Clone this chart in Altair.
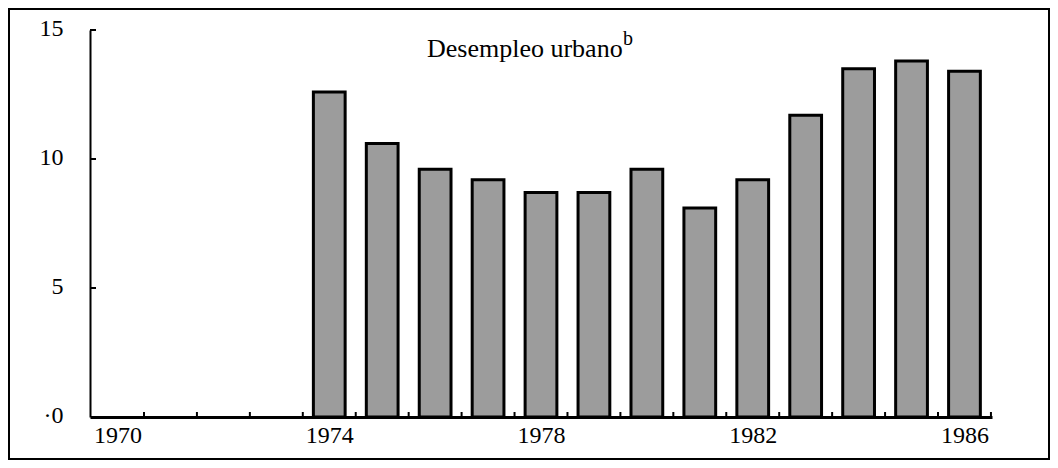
import altair as alt
import pandas as pd

years = [1974, 1975, 1976, 1977, 1978, 1979, 1980, 1981, 1982, 1983, 1984, 1985, 1986]
desempleo = [12.6, 10.6, 9.6, 9.2, 8.7, 8.7, 9.6, 8.1, 9.2, 11.7, 13.5, 13.8, 13.4]
x_labels = [1970, 1974, 1978, 1982, 1986]
y_labels = [0, 5, 10, 15]
x_ticks = [1970, 1971, 1972, 1973, 1974, 1975, 1976, 1977, 1978, 1979,
           1980, 1981, 1982, 1983, 1984, 1985, 1986]
y_ticks = [5, 10, 15]
title_main = "Desempleo urbano"
title_sup = "b"

W, H = 902, 387
PAD = {"left": 82, "top": 22, "right": 58, "bottom": 43}
FONT = "Liberation Serif"

bars_df = pd.DataFrame({"year": years, "value": desempleo})
xt_df = pd.DataFrame({"t": x_ticks})
yt_df = pd.DataFrame({"v": y_ticks})

xscale = alt.Scale(domain=[1969.48, 1986.52], nice=False, zero=False)
yscale = alt.Scale(domain=[0, 15], nice=False)

xaxis = alt.Axis(values=x_labels, format="d", tickSize=0, grid=False,
                 domainWidth=3, domainColor="black", labelFont=FONT,
                 labelFontSize=24, labelColor="black", labelPadding=6,
                 labelFlush=False, labelOverlap=False, title=None)
yaxis = alt.Axis(values=y_labels, tickSize=0, grid=False, domainWidth=2,
                 domainColor="black", labelFont=FONT, labelFontSize=24,
                 labelColor="black", labelPadding=27, labelOffset=-2,
                 labelExpr="datum.value == 0 ? '·0' : datum.label", title=None)

bars = alt.Chart(bars_df).transform_calculate(
    x0="datum.year - 0.3", x1="datum.year + 0.3"
).mark_bar(fill="#9c9c9c", stroke="black", strokeWidth=3).encode(
    x=alt.X("x0:Q", scale=xscale, axis=xaxis),
    x2="x1:Q",
    y=alt.Y("value:Q", scale=yscale, axis=yaxis),
    y2=alt.datum(0),
)

xticks = alt.Chart(xt_df).transform_calculate(
    tx="datum.t + 0.5"
).mark_rule(color="black", strokeWidth=2).encode(
    x=alt.X("tx:Q", scale=xscale),
    y=alt.value(H),
    y2=alt.value(H - 5),
)

yticks = alt.Chart(yt_df).mark_rule(color="black", strokeWidth=2).encode(
    y=alt.Y("v:Q", scale=yscale),
    x=alt.value(0),
    x2=alt.value(6),
)

title1 = alt.Chart(pd.DataFrame({"t": [title_main]})).mark_text(
    font=FONT, fontSize=26, align="left", baseline="alphabetic", color="black"
).encode(text="t:N", x=alt.value(337), y=alt.value(27))

title2 = alt.Chart(pd.DataFrame({"t": [title_sup]})).mark_text(
    font=FONT, fontSize=20, align="left", baseline="alphabetic", color="black"
).encode(text="t:N", x=alt.value(533), y=alt.value(15))

frame = alt.Chart(pd.DataFrame({"f": [0]})).mark_rect(
    filled=False, stroke="black", strokeWidth=2
).encode(
    x=alt.value(-PAD["left"] + 1),
    x2=alt.value(W + PAD["right"] - 1),
    y=alt.value(-PAD["top"] + 1),
    y2=alt.value(H + PAD["bottom"] - 1),
)

chart = alt.layer(bars, xticks, yticks, title1, title2, frame).properties(
    width=W, height=H, padding=PAD, autosize=alt.AutoSizeParams(type="none"),
    background="white"
).configure_view(strokeWidth=0)

chart.save("out.html", embed_options={"renderer": "svg", "actions": False})
